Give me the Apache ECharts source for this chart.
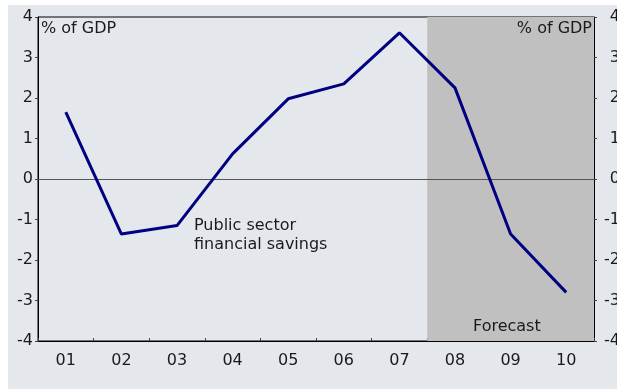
<!DOCTYPE html>
<html>
<head>
<meta charset="utf-8">
<script src="https://cdn.jsdelivr.net/npm/echarts@6/dist/echarts.min.js"></script>
<style>
  html, body { margin: 0; padding: 0; background: #ffffff; overflow: hidden; }
  #wrap { position: relative; width: 617px; height: 389px; overflow: hidden; }
  #panel { position: absolute; left: 8px; top: 5px; width: 609px; height: 384px; background: #e4e8ed; }
  #chart { position: absolute; left: 0; top: 0; width: 617px; height: 389px; }
</style>
</head>
<body>
<div id="wrap">
  <div id="panel"></div>
  <div id="chart"></div>
</div>
<script>
// Years (two-digit) on the category axis
const years = ['01', '02', '03', '04', '05', '06', '07', '08', '09', '10'];
// Public sector financial savings, % of GDP
const savings = [1.65, -1.36, -1.15, 0.62, 1.98, 2.35, 3.61, 2.25, -1.36, -2.8];
// Forecast span on the hidden value axis (category boundaries)
const forecastSpan = [7, 10];
// Value axis range and step
const yMin = -4, yMax = 4, yStep = 1;

const FONT = 'DejaVu Sans';
const TXT = '#1a1a1a';

const chart = echarts.init(document.getElementById('chart'), null, {
  renderer: 'canvas', width: 617, height: 389
});

chart.setOption({
  animation: false,
  backgroundColor: 'transparent',
  textStyle: { fontFamily: FONT },
  grid: {
    left: 38, right: 23, top: 17, bottom: 48,
    containLabel: false,
    outerBoundsMode: 'none',
    show: true, borderColor: '#000', borderWidth: 1,
    backgroundColor: 'transparent'
  },
  xAxis: [
    {
      type: 'category',
      data: years,
      boundaryGap: true,
      axisLine: { onZero: false, lineStyle: { color: '#000', width: 1 } },
      axisTick: { show: true, inside: true, length: 3, lineStyle: { color: '#444' } },
      axisLabel: { color: TXT, fontFamily: FONT, fontSize: 16, margin: 12 },
      splitLine: { show: false }
    },
    {
      type: 'value',
      min: 0, max: 10,
      show: false
    }
  ],
  yAxis: [
    {
      type: 'value',
      position: 'left',
      min: yMin, max: yMax, interval: yStep,
      axisLine: { show: true, lineStyle: { color: '#000', width: 1 } },
      axisTick: { show: true, length: 3, lineStyle: { color: '#444' } },
      axisLabel: { color: TXT, fontFamily: FONT, fontSize: 16, margin: 5 },
      splitLine: { show: false }
    },
    {
      type: 'value',
      position: 'right',
      min: yMin, max: yMax, interval: yStep,
      axisLine: { show: true, lineStyle: { color: '#000', width: 1 } },
      axisTick: { show: true, length: 3, lineStyle: { color: '#444' } },
      axisLabel: { color: TXT, fontFamily: FONT, fontSize: 16, margin: 26, align: 'right' },
      splitLine: { show: false }
    }
  ],
  series: [
    {
      // shaded forecast period
      type: 'line',
      xAxisIndex: 1,
      yAxisIndex: 0,
      data: [[forecastSpan[0], 0]],
      symbol: 'none',
      lineStyle: { opacity: 0 },
      silent: true,
      z: 1,
      markArea: {
        silent: true,
        itemStyle: { color: '#c0c0c0' },
        data: [[{ xAxis: forecastSpan[0] }, { xAxis: forecastSpan[1] }]]
      }
    },
    {
      name: 'Public sector financial savings',
      type: 'line',
      data: savings,
      symbol: 'none',
      lineStyle: { color: '#000080', width: 3 },
      z: 5,
      markLine: {
        silent: true,
        symbol: 'none',
        label: { show: false },
        lineStyle: { color: '#555', width: 1.2, type: 'solid' },
        data: [{ yAxis: 0 }]
      }
    }
  ],
  graphic: [
    {
      type: 'text', left: 41, top: 21, z: 10,
      style: { text: '% of GDP', fill: TXT, font: '16px "DejaVu Sans"' }
    },
    {
      type: 'text', right: 25, top: 21, z: 10,
      style: { text: '% of GDP', fill: TXT, font: '16px "DejaVu Sans"' }
    },
    {
      type: 'text', left: 473, top: 319, z: 10,
      style: { text: 'Forecast', fill: TXT, font: '16px "DejaVu Sans"' }
    },
    {
      type: 'text', left: 194, top: 216, z: 10,
      style: { text: 'Public sector\nfinancial savings', fill: TXT, font: '16px "DejaVu Sans"', lineHeight: 19 }
    }
  ]
});
</script>
</body>
</html>
